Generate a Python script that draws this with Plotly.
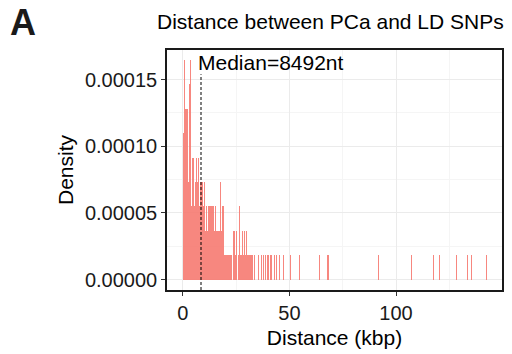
import numpy as np
import plotly.graph_objects as go

# SNP counts in 0.5 kbp bins starting at 0 kbp (dense part of the distribution)
bin_width_kbp = 0.5
dense_counts = [
    6, 9, 7, 7, 7, 4, 8, 9, 3, 5,
    3, 4, 5, 4, 5, 3, 4, 4, 4, 3,
    4, 2, 3, 2, 3, 3, 3, 3, 3, 2,
    3, 2, 2, 2, 2, 4, 2, 3, 3, 1,
    1, 1, 1, 1, 1, 1, 0, 2, 2, 1,
    2, 0, 1, 3, 1, 2, 1, 2, 1, 2,
    1, 1, 1, 1, 1, 1, 0, 1, 0, 0, 1,
]
# isolated single SNPs in the long tail (kbp)
tail_kbp = [
    36.9, 37.9, 38.9, 39.5, 40.2, 40.9, 41.4, 42.9, 43.8, 44.6, 45.2, 46.0,
    47.0, 50.5, 54.6, 64.1, 67.8, 68.3, 69.5, 91.9, 107.3, 117.7, 120.3,
    128.3, 133.4, 135.3, 142.3,
]
density_per_snp = 1.83e-5          # density of one SNP in a bin
median_nt = 8492

y_ticks = [0, 5e-5, 1e-4, 1.5e-4]
y_tick_text = ["0.00000", "0.00005", "0.00010", "0.00015"]
x_ticks = [0, 50, 100]

dense_x = np.arange(len(dense_counts)) * bin_width_kbp + bin_width_kbp / 2
bar_x = list(dense_x) + tail_kbp
bar_y = [c * density_per_snp for c in dense_counts] + [density_per_snp] * len(tail_kbp)
bar_w = [bin_width_kbp] * len(dense_counts) + [0.42] * len(tail_kbp)

font = "Liberation Sans, Arial, Helvetica, sans-serif"
y_range = [-7.8e-6, 1.722e-4]

W, H = 512, 354
M = dict(l=167, r=8, t=50, b=56)
plot_w = W - M["l"] - M["r"]
plot_h = H - M["t"] - M["b"]


def px_to_paper(px, py):
    """Convert figure pixel coordinates (from top-left) to paper coordinates."""
    return (px - M["l"]) / plot_w, (H - M["b"] - py) / plot_h


fig = go.Figure()
fig.add_trace(go.Bar(
    x=bar_x, y=bar_y, width=bar_w,
    marker=dict(color="rgba(246,118,109,0.88)", line=dict(width=0)),
    hoverinfo="skip",
))

median_kbp = median_nt / 1000
fig.add_shape(type="line", xref="x", yref="y",
              x0=median_kbp, x1=median_kbp, y0=y_range[0], y1=1.54e-4,
              line=dict(color="black", width=1, dash="3px,2px"))

fig.add_annotation(text=f"Median={median_nt}nt", x=41.1, y=1.625e-4,
                   xref="x", yref="y", showarrow=False,
                   font=dict(family=font, size=21, color="black"))

tx, ty = px_to_paper(331, 21)
fig.add_annotation(text="Distance between PCa and LD SNPs", x=tx, y=ty,
                   xref="paper", yref="paper", showarrow=False,
                   xanchor="center", yanchor="middle",
                   font=dict(family=font, size=21, color="black"))
ax_, ay_ = px_to_paper(7, -2)
fig.add_annotation(text="<b>A</b>", x=ax_, y=ay_, xref="paper", yref="paper",
                   xanchor="left", yanchor="top", showarrow=False,
                   font=dict(family=font, size=36, color="#1a1a1a"))

axis_common = dict(
    showline=True, linecolor="#1a1a1a", linewidth=1.6, mirror=True,
    ticks="outside", ticklen=4, tickwidth=1, tickcolor="#333333",
    showgrid=True, gridcolor="#EBEBEB", gridwidth=1, zeroline=False,
    tickfont=dict(family=font, size=20, color="#1a1a1a"),
)

fig.update_layout(
    width=W, height=H,
    margin=M,
    paper_bgcolor="white", plot_bgcolor="white",
    showlegend=False, bargap=0,
    xaxis=dict(
        axis_common, range=[-7.46, 149.7], tickvals=x_ticks,
        minor=dict(tickvals=[25, 75, 125], showgrid=True, gridcolor="#F5F5F5",
                   gridwidth=0.6, ticks=""),
        title=dict(text="Distance (kbp)", standoff=8,
                   font=dict(family=font, size=21, color="black")),
    ),
    yaxis=dict(
        axis_common, range=y_range, tickvals=y_ticks, ticktext=y_tick_text,
        minor=dict(tickvals=[2.5e-5, 7.5e-5, 1.25e-4], showgrid=True,
                   gridcolor="#F5F5F5", gridwidth=0.6, ticks=""),
        title=dict(text="Density", standoff=6,
                   font=dict(family=font, size=21, color="black")),
    ),
)

fig.write_html("out.html")
